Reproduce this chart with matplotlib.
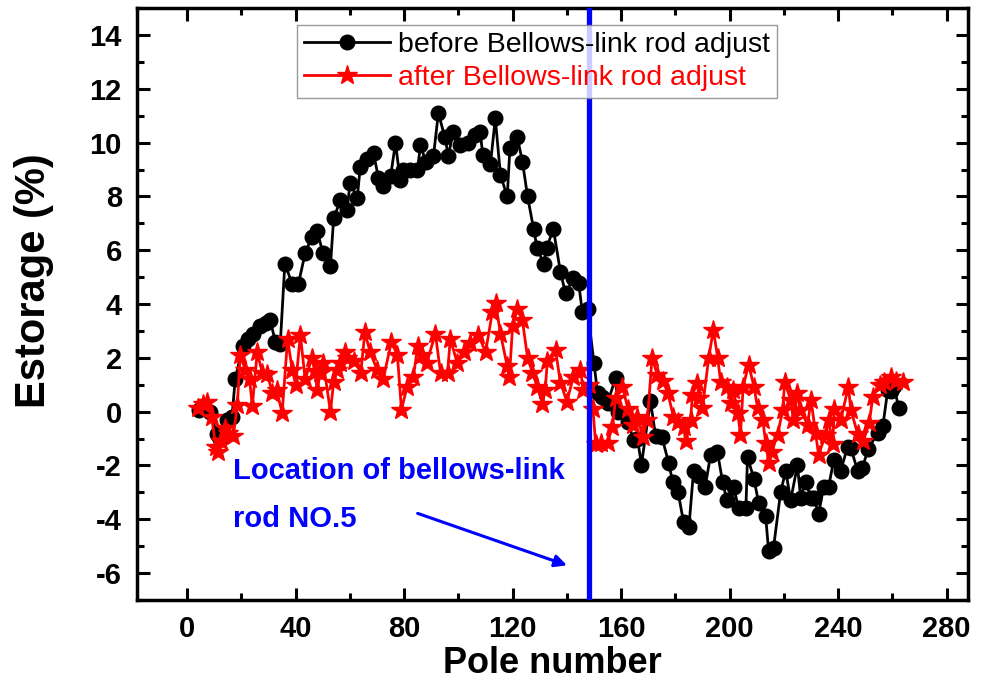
import matplotlib
matplotlib.use("Agg")
import matplotlib.pyplot as plt
from matplotlib.ticker import MultipleLocator

plt.rcParams['font.family'] = ['Liberation Sans', 'DejaVu Sans']
plt.rcParams['axes.unicode_minus'] = False

# donnees : avant reglage (cercles noirs)
before_x = [4.5, 8.5, 11, 12, 14.5, 16.5, 17.7, 20.5, 22.5, 24.4, 27, 29, 30.6, 32.5, 34.3,
            36, 38.7, 41, 43.5, 46, 48, 50, 52.8, 54, 56.5, 59, 60, 62.7, 63.8, 66.4,
            68.7, 70.5, 72.3, 75, 76.8, 78.5, 79.7, 82, 84.9, 86, 88, 90.8, 92.6, 95, 96.3,
            98, 100.7, 103.7, 106, 108, 109, 111.8, 113.6, 115.5, 118, 119, 121.7, 123.6,
            125.5, 127.7, 129, 131.4, 132.6, 135, 137.6, 139.5, 142.4, 144.3, 145.7, 147.6,
            150, 151.3, 153, 155, 158, 158.7, 162.4, 164.6, 166, 167.5, 170.8, 172.7, 175,
            177.5, 179, 181, 183, 185, 186.7, 188.6, 191, 193, 195.5, 197.4, 199, 201.5,
            203.3, 206, 206.6, 209, 210.7, 213.3, 214.4, 216.2, 218.8, 220.7, 222.5, 225,
            226.2, 228, 230, 231, 232.8, 234.7, 236.5, 238.4, 241, 243.5, 244.7, 247.2, 249,
            251, 254.6, 256.5, 258.3, 259.6, 260.5, 262.4]
before_y = [0.05, 0.0, -0.85, -1.0, -0.3, -0.2, 1.2, 2.45, 2.7, 2.9, 3.2, 3.3, 3.4, 2.6, 2.5,
            5.5, 4.75, 4.75, 5.9, 6.5, 6.7, 5.9, 5.4, 7.2, 7.85, 7.5, 8.5, 7.95, 9.1, 9.4,
            9.6, 8.7, 8.4, 8.75, 10.0, 8.6, 9.0, 9.0, 9.0, 9.9, 9.3, 9.5, 11.1, 10.2, 9.5,
            10.4, 9.9, 10.0, 10.3, 10.4, 9.55, 9.2, 10.9, 8.8, 8.0, 9.8, 10.2, 9.3,
            8.0, 6.8, 6.1, 5.5, 6.1, 6.8, 5.2, 4.4, 4.95, 4.8, 3.7, 3.8,
            1.8, 0.7, 0.56, 0.33, 1.26, 0.0, -0.37, -1.04, -1.0, -1.97, 0.4, -0.9, -0.93,
            -1.9, -2.6, -3.0, -4.1, -4.3, -2.2, -2.4, -2.8, -1.6, -1.5, -2.6, -3.3, -2.8,
            -3.6, -3.6, -1.7, -2.5, -3.4, -3.9, -5.2, -5.06, -3.0, -2.2, -3.3, -2.0,
            -3.2, -2.6, -3.2, -3.2, -3.8, -2.8, -2.8, -1.8, -2.2, -1.3, -1.35, -2.2, -2.1,
            -1.4, -0.8, -0.55, 0.8, 0.75, 0.95, 0.15]

# apres reglage (etoiles rouges)
after_x = [4, 6, 7.4, 9, 10.5, 11.4, 12.5, 14, 15, 17, 18.5, 19.5, 21.4, 23, 24, 25.8, 27.7,
           29.5, 31.4, 33, 35, 37, 38.7, 40, 41.7, 43.5, 46, 47, 48, 49, 50.2, 52.8, 54,
           55.4, 56.5, 58, 59, 61.5, 64, 65.5, 67.5, 70, 72.3, 75.3, 77.5, 79, 81, 83.4,
           85, 86.5, 88.3, 91.5, 93.4, 96, 97, 99.6, 102, 104.4, 107.4, 110, 112.5, 113.7,
           115.5, 118, 118.8, 120, 121.7, 123.6, 125.5, 127.3, 129, 131, 132, 132.8, 135.8,
           137.6, 140, 142.4, 145, 146, 148, 149.6, 150.6, 152.4, 155, 156.8, 158, 160.5,
           162.5, 164.4, 166, 168, 169.7, 171.4, 173.4, 175.4, 177.2, 179.3, 181, 183,
           183.8, 185.6, 186.3, 188, 188.8, 190, 192.3, 194, 195.6, 196.7, 199, 200.4,
           201.4, 203, 204, 205, 207, 209, 210.3, 212.2, 213.3, 214.4, 215.5, 217.7, 219.6,
           220.3, 222.5, 223.5, 225, 226, 228.8, 230, 231.7, 232.8, 235.4, 236.5, 238,
           238.6, 241, 243.8, 244.7, 247.2, 249.3, 251.5, 252.8, 255.3, 257, 259.4, 261.3,
           263.8]
after_y = [0.15, 0.3, 0.37, -0.2, -1.3, -1.5, -1.1, -0.6, -0.8, -0.9, 0.26, 2.1, 1.56, 1.2,
           0.2, 2.2, 1.45, 1.4, 0.7, 0.8, -0.05, 2.7, 1.56, 1.0, 2.86, 1.2, 2.0, 1.5, 0.8,
           1.45, 1.8, 0.0, 1.1, 1.56, 1.8, 2.2, 2.0, 1.9, 1.45, 2.95, 2.2, 1.56, 1.22, 2.6,
           2.1, 0.07, 0.9, 1.3, 2.45, 2.1, 1.8, 2.9, 1.45, 1.45, 2.7, 1.8, 2.2, 2.56, 2.86,
           2.2, 3.7, 4.05, 2.9, 1.7, 1.3, 3.2, 3.8, 3.4, 2.0, 1.45, 0.93, 0.3, 0.8, 1.9,
           2.3, 1.08, 0.37, 1.3, 1.56, 0.8, 1.0, 0.1, -1.2, -1.15, -1.15, -0.56, 0.5, 0.93,
           0.1, -0.5, -0.2, -0.93, -0.3, 2.0, 1.35, 1.15, 0.7, -0.19, -0.4, -0.56,
           -1.1, -0.3, 0.63, 1.08, 0.5, 0.15, 2.0, 3.05, 2.0, 1.1, 0.93, 0.33,
           0.8, -0.04, -0.86, 0.93, 1.75, 0.93, 0.15, -0.3, -1.15, -1.9, -1.5, -0.86, 0.07,
           1.1, 0.45, -0.3, 0.7, 0.07, -0.48, 0.45, -0.78, -1.6, -0.86, -0.3, -1.2,
           0.1, -0.3, 0.93, 0.07, -0.82, -1.1, -0.41, 0.54, 1.0, 1.1, 1.3, 1.15,
           1.1]

pole_rod5 = 148

fig = plt.figure(figsize=(9.86, 6.84), dpi=100)
ax = fig.add_axes([0.139, 0.123, 0.843, 0.865])

ax.plot(before_x, before_y, '-', color='black', lw=2, marker='o', ms=10.5,
        label='before Bellows-link rod adjust', zorder=3)
ax.plot(after_x, after_y, '-', color='red', lw=2, marker='*', ms=15,
        label='after Bellows-link rod adjust', zorder=4)
ax.axvline(pole_rod5, color='blue', lw=3.8, zorder=5)

ax.text(17, -2.2, 'Location of bellows-link', color='blue', fontsize=21,
        fontweight='bold', va='center', ha='left')
ax.text(17, -4.0, 'rod NO.5', color='blue', fontsize=21,
        fontweight='bold', va='center', ha='left')
ax.annotate('', xy=(141, -5.75), xytext=(84, -3.75),
            arrowprops=dict(arrowstyle='-|>', color='blue', lw=2.2,
                            mutation_scale=18))

ax.set_xlim(-18.5, 288)
ax.set_ylim(-7, 15)
ax.xaxis.set_major_locator(MultipleLocator(40))
ax.xaxis.set_minor_locator(MultipleLocator(20))
ax.yaxis.set_major_locator(MultipleLocator(2))
ax.yaxis.set_minor_locator(MultipleLocator(1))
ax.tick_params(which='both', direction='in', top=True, right=True, width=2.2)
ax.tick_params(which='major', length=9, labelsize=21, pad=11)
ax.tick_params(which='minor', length=5)
for lab in ax.get_xticklabels() + ax.get_yticklabels():
    lab.set_fontweight('bold')
for sp in ax.spines.values():
    sp.set_linewidth(2.5)

ax.set_xlabel('Pole number', fontsize=26, fontweight='bold', labelpad=2)
ax.set_ylabel('Estorage (%)', fontsize=30, fontweight='bold')
ax.yaxis.set_label_coords(-0.1, 0.54)

leg = ax.legend(loc='upper left', bbox_to_anchor=(0.1925, 0.972), fontsize=20.5,
                frameon=True, fancybox=False, edgecolor='gray', handlelength=3,
                borderpad=0.25, labelspacing=0.25, handletextpad=0.3, borderaxespad=0)
leg.get_frame().set_linewidth(1)
leg.get_texts()[0].set_color('black')
leg.get_texts()[1].set_color('red')

fig.savefig('out.png', dpi=100)
